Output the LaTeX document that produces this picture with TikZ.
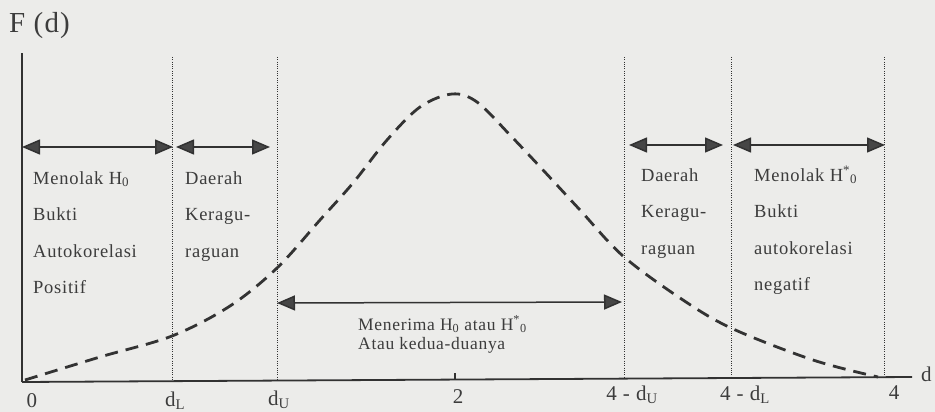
\documentclass[tikz,border=0pt]{standalone}
\usepackage{fontspec}
\setmainfont{Liberation Serif}[LetterSpace=4]
\usetikzlibrary{arrows.meta}
\definecolor{bg}{RGB}{236,236,234}
\definecolor{ink}{RGB}{50,50,50}
\definecolor{txt}{RGB}{60,60,60}
\definecolor{headfill}{RGB}{70,70,70}
\tikzset{
  axisline/.style={draw=ink, line width=1.8pt},
  guide/.style={draw=ink, line width=1pt, dash pattern=on 1pt off 1.3pt},
  rangearrow/.style={draw=ink, line width=1.5pt,
    {Triangle[length=18pt,width=15pt,fill=headfill]}-{Triangle[length=18pt,width=15pt,fill=headfill]}},
  bellcurve/.style={draw=black!80, line width=2.8pt, dash pattern=on 13pt off 8pt},
  lbl/.style={anchor=base west, text=txt, font=\fontsize{18.5}{21}\selectfont, inner sep=0pt},
  midlbl/.style={anchor=base west, text=txt, font=\fontsize{17.5}{20}\selectfont, inner sep=0pt},
  ticklbl/.style={anchor=base, text=txt, font=\fontsize{21}{24}\selectfont, inner sep=0pt}
}
\begin{document}
\begin{tikzpicture}[x=1pt,y=-1pt]
\fill[bg] (0,0) rectangle (935,412);
\useasboundingbox (0,0) rectangle (935,412);

% axes
\coordinate (origin) at (22,382);
\coordinate (ytop) at (22,53);
\coordinate (xend) at (912,377);
\draw[axisline, line width=1.4pt] (origin) -- (ytop);
\draw[axisline] (origin) -- (xend);

% guide lines
\foreach \n/\x/\y in {gL/172/381.2, gU/277/380.6, gUU/624/378.6, gLL/731/378.0, gF/884/377.2}{
  \coordinate (\n top) at (\x,57);
  \coordinate (\n bot) at (\x,\y);
  \draw[guide] (\n top) -- (\n bot);
}

% tick at 2
\coordinate (t2a) at (455,373);
\coordinate (t2b) at (455,379.6);
\draw[ink, line width=1.3pt] (t2a) -- (t2b);

% curve
\draw[bellcurve] plot[smooth, tension=0.55] coordinates {
 (25,380) (100,357) (172,336) (230,306) (277,268) (320,220) (353,183)
 (387,140) (420,107) (452,94) (477,102) (510,135) (543,170) (580,210)
 (623,256) (680,298) (731,328) (813,360) (878,377)};

% range arrows
\coordinate (a1l) at (22,147);  \coordinate (a1r) at (173,147);
\coordinate (a2l) at (176,147); \coordinate (a2r) at (270,147);
\coordinate (a3l) at (629,145); \coordinate (a3r) at (723,145);
\coordinate (a4l) at (733,145); \coordinate (a4r) at (885,145);
\coordinate (aml) at (277,303); \coordinate (amr) at (622,302);
\draw[rangearrow] (a1l) -- (a1r);
\draw[rangearrow] (a2l) -- (a2r);
\draw[rangearrow] (a3l) -- (a3r);
\draw[rangearrow] (a4l) -- (a4r);
\draw[rangearrow] (aml) -- (amr);

% region labels
\node[lbl] (r1a) at (33,184) {Menolak H\textsubscript{0}};
\node[lbl] (r1b) at (33,220.5) {Bukti};
\node[lbl] (r1c) at (33,257) {Autokorelasi};
\node[lbl] (r1d) at (33,293) {Positif};

\node[lbl] (r2a) at (185,184) {Daerah};
\node[lbl] (r2b) at (185,220.5) {Keragu-};
\node[lbl] (r2c) at (185,257) {raguan};

\node[lbl] (r3a) at (641,181) {Daerah};
\node[lbl] (r3b) at (641,217.5) {Keragu-};
\node[lbl] (r3c) at (641,254) {raguan};

\node[lbl] (r4a) at (754,181) {Menolak H\textsuperscript{*}\textsubscript{0}};
\node[lbl] (r4b) at (754,217.5) {Bukti};
\node[lbl] (r4c) at (754,254) {autokorelasi};
\node[lbl] (r4d) at (754,290) {negatif};

\node[midlbl] (m1) at (358,330) {Menerima H\textsubscript{0} atau H\textsuperscript{*}\textsubscript{0}};
\node[midlbl] (m2) at (358,349) {Atau kedua-duanya};

% tick labels
\node[ticklbl] (l0) at (32,407) {0};
\node[ticklbl] (lL) at (175,406) {d\textsubscript{L}};
\node[ticklbl] (lU) at (279,405) {d\textsubscript{U}};
\node[ticklbl] (l2) at (458,403) {2};
\node[ticklbl] (lUU) at (632,400.5) {4 - d\textsubscript{U}};
\node[ticklbl] (lLL) at (745,400) {4 - d\textsubscript{L}};
\node[ticklbl] (l4) at (894,399) {4};
\node[ticklbl, anchor=base west] (ld) at (921,381) {d};

\node[anchor=base west, text=txt, font=\fontsize{29}{33}\selectfont, inner sep=0pt] (Fd) at (9,33) {F (d)};
\end{tikzpicture}
\end{document}
